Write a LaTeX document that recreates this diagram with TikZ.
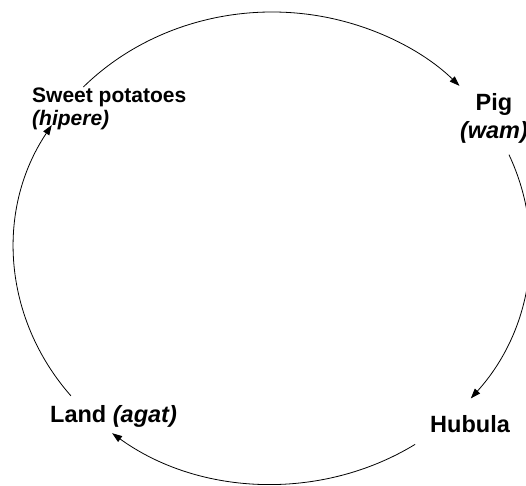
\documentclass[tikz,border=0pt]{standalone}
\usepackage{fontspec}
\setmainfont{Liberation Sans}
\usetikzlibrary{arrows.meta,calc}
\begin{document}
\begin{tikzpicture}[x=1pt,y=1pt,
  cyc/.style={line width=0.8pt,-{Triangle[length=10pt,width=7pt]}},
  lbl/.style={inner sep=0pt,font=\bfseries\fontsize{23.5}{28}\selectfont},
  lblsmall/.style={inner sep=0pt,font=\bfseries\fontsize{21}{23}\selectfont},
  ring/.style={x radius=258,y radius=236}]
\useasboundingbox (0,0) rectangle (526,485);

% centre of the cycle
\coordinate (O) at (272,237);

% labels
\node[lblsmall,anchor=north west,align=left] (sweet) at (32,397)
  {Sweet potatoes\\\textit{(hipere)}};
\node[lbl,anchor=north,align=center] (pig) at (494,392)
  {Pig\\\textit{(wam)}};
\node[lbl,anchor=base west] (hubula) at (430,53) {Hubula};
\node[lbl,anchor=base west] (land) at (50,63) {Land \textit{(agat)}};

% start points of the arcs on the ellipse
\coordinate (sweet-out) at ($(O)+(137:258 and 236)$);
\coordinate (pig-out)   at ($(O)+(23.3:258 and 236)$);
\coordinate (hub-out)   at ($(O)+(-56.3:258 and 236)$);
\coordinate (land-out)  at ($(O)+(-141.2:258 and 236)$);

% the four arrows of the cycle
\draw[cyc] (sweet-out) arc[ring,start angle=137,end angle=43.4];
\draw[cyc] (pig-out) arc[ring,start angle=23.3,end angle=-39.6];
\draw[cyc] (hub-out) arc[ring,start angle=-56.3,end angle=-128.3];
\draw[cyc] (land-out) arc[ring,start angle=-141.2,end angle=-211.4];
\end{tikzpicture}
\end{document}
